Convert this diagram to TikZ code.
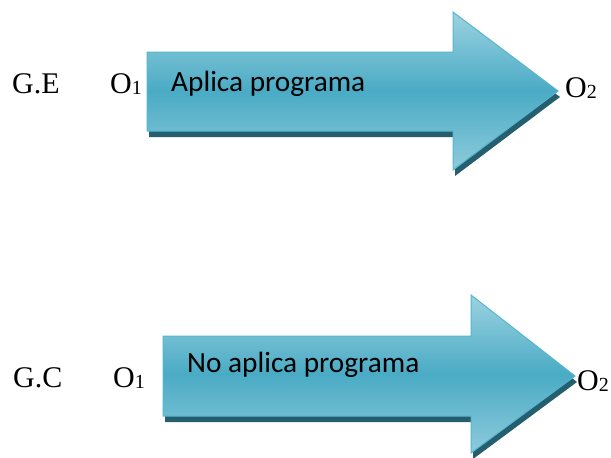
\documentclass[tikz,border=0pt]{standalone}
\usepackage{fontspec}
\setmainfont{Liberation Serif}
\newfontfamily\calib{Carlito}
\definecolor{arrtop}{RGB}{156,210,224}
\definecolor{arrmid}{RGB}{74,171,197}
\definecolor{arrbot}{RGB}{142,203,219}
\definecolor{arredge}{RGB}{86,182,208}
\definecolor{arrshadow}{RGB}{37,94,110}
\tikzset{
  lbl/.style={inner sep=0pt, anchor=base west, font=\fontsize{30}{30}\selectfont},
  inlbl/.style={inner sep=0pt, anchor=base west, font=\calib\fontsize{29.3}{29.3}\selectfont},
  arrbody/.style={top color=arrtop, bottom color=arrbot, middle color=arrmid, draw=arredge, line width=1pt, line join=miter},
  arrshade/.style={fill=arrshadow}
}
\newcommand{\sub}[1]{{\fontsize{20}{20}\selectfont\raisebox{-1pt}{#1}}}
\begin{document}
\begin{tikzpicture}[x=1pt,y=-1pt]
\useasboundingbox (0,0) rectangle (611,458);
% top arrow
\fill[arrshade,shift={(2,6)}] (147,52) -- (453,52) -- (453,12) -- (558,91) -- (453,170) -- (453,131) -- (147,131) -- cycle;
\path[arrbody] (147,52) -- (453,52) -- (453,12) -- (558,91) -- (453,170) -- (453,131) -- (147,131) -- cycle;
% bottom arrow
\fill[arrshade,shift={(2,6)}] (163,336) -- (471,336) -- (471,295) -- (575,376) -- (471,453) -- (471,416) -- (163,416) -- cycle;
\path[arrbody] (163,336) -- (471,336) -- (471,295) -- (575,376) -- (471,453) -- (471,416) -- (163,416) -- cycle;
% labels
\node[lbl] (ge) at (12,93) {G.E};
\node[lbl] (o1a) at (110,93) {O\sub{1}};
\node[inlbl] (t1) at (171,91) {Aplica programa};
\node[lbl] (o2a) at (565,97) {O\sub{2}};
\node[lbl] (gc) at (13,387) {G.C};
\node[lbl] (o1b) at (113,387) {O\sub{1}};
\node[inlbl] (t2) at (187,372) {No aplica programa};
\node[lbl] (o2b) at (577,390) {O\sub{2}};
\end{tikzpicture}
\end{document}
